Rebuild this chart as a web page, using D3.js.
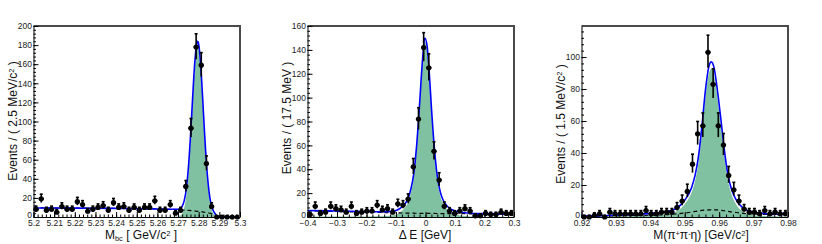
<!DOCTYPE html>
<html>
<head>
<meta charset="utf-8">
<script src="https://cdn.jsdelivr.net/npm/d3@7"></script>
<style>
body{margin:0;background:#fff}
svg{display:block;font-family:"Liberation Sans",Arial,sans-serif}
</style>
</head>
<body>
<svg id="chart" width="822" height="244"></svg>
<script>
/* ---- panel 1 : Mbc, 40 bins of 2.5 MeV ---- */
var mbcCounts = [8,19,7,8,5, 11,8,8,16,13, 6,8,10,12,7, 15,10,11,7,10,
                 7,10,10,17,7, 7,13,4,7,32, 93,178,159,56,11, 0,0,0,0,0];
var mbcCurveX   = [5.2,5.22,5.24,5.26,5.265,5.27,5.271,5.272,5.273,5.274,5.275,5.276,5.277,5.278,5.279,5.2795,
                   5.28,5.281,5.282,5.283,5.284,5.285,5.286,5.287,5.288,5.289,5.29,5.3];
var mbcCurveTot = [9.5,9.3,9.0,8.4,8.1,8.1,8.9,11.2,17.1,29.5,51.4,83.6,122.4,158.8,180.9,183.9,
                   180.7,158.0,121.2,81.8,49.0,26.6,13.4,6.8,3.4,0.4,0,0];
var mbcCurveBkg = [9.5,9.3,9.0,8.4,8.1,7.7,7.56,7.42,7.28,7.14,7.0,6.76,6.52,6.28,6.04,5.9,
                   5.8,5.53,5.27,5.0,4.6,4.2,3.6,3.0,2.1,0,0,0];
var mbcXTicks = [5.2,5.21,5.22,5.23,5.24,5.25,5.26,5.27,5.28,5.29,5.3];
var mbcYTicks = [0,20,40,60,80,100,120,140,160,180,200];

/* ---- panel 2 : Delta E, 40 bins of 17.5 MeV ---- */
var deCounts = [2,9,3,4,9, 7,6,4,9,3, 4,5,5,10,6, 7,4,11,10,15,
                42,82,142,125,55, 31,9,5,3,5, 7,5,1,1,3, 2,2,4,3,3];
var deCurveX   = [-0.4,-0.3,-0.2,-0.15,-0.12,-0.1,-0.085,-0.07,-0.06,-0.05,-0.04,-0.03,-0.02,-0.01,-0.0025,
                  0.005,0.0125,0.02,0.03,0.04,0.05,0.06,0.07,0.085,0.1,0.12,0.15,0.2,0.3];
var deCurveTot = [5.4,5.0,4.5,4.4,4.6,5.5,7.5,11,15,23,36,60,95,132,150,
                  144,122,92,58,34,21,14,10,6.8,5.0,4.0,3.2,2.8,2.5];
var deCurveBkg = [5.2,4.6,4.0,3.8,3.6,3.5,3.4,3.3,3.3,3.2,3.2,3.1,3.1,3.1,3.1,
                  3.0,3.0,3.0,3.0,2.9,2.9,2.9,2.9,2.8,2.8,2.8,2.7,2.6,2.4];
var deXTicks = [-0.4,-0.3,-0.2,-0.1,0,0.1,0.2,0.3];
var deYTicks = [0,20,40,60,80,100,120,140,160];

/* ---- panel 3 : M(pi+ pi- eta), 40 bins of 1.5 MeV ---- */
var etaCounts = [0,0,1,2,0, 3,2,2,2,2, 2,2,4,2,2, 3,3,3,6,10,
                 16,33,52,57,103, 83,57,45,26,17, 10,5,3,3,2, 4,2,3,2,2];
var etaCurveX   = [0.92,0.93,0.937,0.941,0.945,0.948,0.95,0.952,0.953,0.954,0.955,0.956,0.957,0.9577,
                   0.9585,0.9595,0.9605,0.9615,0.9625,0.9635,0.965,0.9665,0.968,0.971,0.976,0.98];
var etaCurveTot = [0.6,1.1,1.7,2.4,3.4,6.0,10.5,18.5,26,38,57,79,94,97,
                   93.5,79,61,42,27,18,10.5,6.5,4.3,2.7,1.9,1.6];
var etaCurveBkg = [0.4,0.7,1.0,1.2,1.5,2.0,2.5,3.1,3.5,3.8,4.1,4.3,4.4,4.5,
                   4.5,4.4,4.2,3.9,3.6,3.2,2.8,2.4,2.1,1.8,1.5,1.4];
var etaXTicks = [0.92,0.93,0.94,0.95,0.96,0.97,0.98];
var etaYTicks = [0,20,40,60,80,100];

var svg = d3.select("#chart");

var panels = [
  {off:0,   counts:mbcCounts, lo:5.2,  hi:5.3,  ymax:200,   cx:mbcCurveX, tot:mbcCurveTot, bkg:mbcCurveBkg,
   xt:mbcXTicks, yt:mbcYTicks, xminor:0.002, yminor:4, fmt:function(d){return String(+d.toFixed(2));},
   xtitle:[["M",""],["bc","sub"],[" [ GeV/c",""],["2","sup"],[" ]",""]], xtitleX:141,
   ytitle:[["Events / ( 2.5 MeV/c",""],["2","sup"],[" )",""]], ytitleY:121},
  {off:274, counts:deCounts,  lo:-0.4, hi:0.3,  ymax:160,   cx:deCurveX,  tot:deCurveTot,  bkg:deCurveBkg,
   xt:deXTicks, yt:deYTicks, xminor:0.02, yminor:4,
   fmt:function(d){return d<0 ? "\u2212"+String(+(-d).toFixed(1)) : String(+d.toFixed(1));},
   xtitle:[["\u0394 E [GeV]",""]], xtitleX:425,
   ytitle:[["Events / ( 17.5 MeV )",""]], ytitleY:118},
  {off:548, counts:etaCounts, lo:0.92, hi:0.98, ymax:119.4, cx:etaCurveX, tot:etaCurveTot, bkg:etaCurveBkg,
   xt:etaXTicks, yt:etaYTicks, xminor:0.002, yminor:4, fmt:function(d){return String(+d.toFixed(2));},
   xtitle:[["M(\u03c0",""],["+","sup"],["\u03c0",""],["-","sup"],["\u03b7) [GeV/c",""],["2","sup"],["]",""]], xtitleX:701,
   ytitle:[["Events / ( 1.5 MeV/c",""],["2","sup"],[" )",""]], ytitleY:124}
];

var frameTop = 26, frameBottom = 217;

function addRich(t, parts){
  parts.forEach(function(p){
    var s = t.append("tspan").text(p[0]);
    if(p[1] == "sup") s.attr("font-size","0.62em").attr("dy","-0.45em");
    if(p[1] == "sub") s.attr("font-size","0.62em").attr("dy","0.3em");
    if(p[1] == "" && s.node().previousSibling){
      var prev = d3.select(s.node().previousSibling).attr("data-k");
      if(prev == "sup") s.attr("dy","0.28em");
      if(prev == "sub") s.attr("dy","-0.19em");
    }
    s.attr("data-k", p[1]);
  });
}

panels.forEach(function(p, k){
  var left = p.off + 33.5, right = p.off + 240;
  var x = d3.scaleLinear().domain([p.lo, p.hi]).range([left, right]);
  var y = d3.scaleLinear().domain([0, p.ymax]).range([frameBottom, frameTop]);
  var g = svg.append("g");

  g.append("clipPath").attr("id","clip"+k).append("rect")
    .attr("x",left).attr("y",frameTop).attr("width",right-left).attr("height",frameBottom-frameTop);
  var plot = g.append("g").attr("clip-path","url(#clip"+k+")");

  var pts = p.cx.map(function(v,i){ return {x:v, tot:p.tot[i], bkg:p.bkg[i]}; });

  /* signal component, filled */
  plot.append("path").datum(pts)
    .attr("d", d3.area().curve(d3.curveMonotoneX)
      .x(function(d){return x(d.x);})
      .y0(y(0))
      .y1(function(d){return y(Math.max(0, d.tot - d.bkg));}))
    .attr("fill","#7fc1a0").attr("stroke","none");

  /* background, dashed */
  plot.append("path").datum(pts)
    .attr("d", d3.line().curve(d3.curveMonotoneX)
      .x(function(d){return x(d.x);}).y(function(d){return y(d.bkg);}))
    .attr("fill","none").attr("stroke","#000").attr("stroke-width",1.2).attr("stroke-dasharray","4,3");

  /* total fit */
  plot.append("path").datum(pts)
    .attr("d", d3.line().curve(d3.curveMonotoneX)
      .x(function(d){return x(d.x);}).y(function(d){return y(d.tot);}))
    .attr("fill","none").attr("stroke","#0000ff").attr("stroke-width",1.6);

  /* data points with errors */
  var w = (p.hi - p.lo) / p.counts.length;
  var data = p.counts.map(function(n,i){
    var e = Math.sqrt(n + 0.25);
    return {x0:p.lo + w*i, x1:p.lo + w*(i+1), xc:p.lo + w*(i+0.5), n:n,
            lo:Math.max(0, n + 0.5 - e), hi:n + 0.5 + e};
  });
  var dp = g.append("g").attr("stroke","#000").attr("stroke-width",1.6);
  dp.selectAll("line.h").data(data).enter().append("line").attr("class","h")
    .attr("x1",function(d){return x(d.x0);}).attr("x2",function(d){return x(d.x1);})
    .attr("y1",function(d){return y(d.n);}).attr("y2",function(d){return y(d.n);});
  dp.selectAll("line.v").data(data).enter().append("line").attr("class","v")
    .attr("x1",function(d){return x(d.xc);}).attr("x2",function(d){return x(d.xc);})
    .attr("y1",function(d){return y(d.lo);}).attr("y2",function(d){return y(d.hi);});
  dp.selectAll("line.c").data(data).enter().append("line").attr("class","c")
    .attr("x1",function(d){return x(d.xc)-1.5;}).attr("x2",function(d){return x(d.xc)+1.5;})
    .attr("y1",function(d){return y(d.hi);}).attr("y2",function(d){return y(d.hi);});
  g.selectAll("circle.m").data(data).enter().append("circle").attr("class","m")
    .attr("cx",function(d){return x(d.xc);}).attr("cy",function(d){return y(d.n);})
    .attr("r",2.6).attr("fill","#000");

  /* frame */
  g.append("path")
    .attr("d","M"+left+","+frameTop+"H"+right+"V"+frameBottom)
    .attr("fill","none").attr("stroke","#4a4a4a").attr("stroke-width",2);

  /* axes: ticks inside */
  var xMinor = d3.range(p.lo, p.hi + 1e-9, p.xminor);
  var yMinor = d3.range(0, p.ymax + 1e-9, p.yminor);
  var xa = g.append("g").attr("transform","translate(0,"+frameBottom+")")
    .call(d3.axisBottom(x).tickValues(p.xt).tickSize(-5).tickSizeOuter(0).tickPadding(3).tickFormat(p.fmt));
  g.append("g").attr("transform","translate(0,"+frameBottom+")")
    .call(d3.axisBottom(x).tickValues(xMinor).tickSize(-2.5).tickSizeOuter(0).tickFormat(""))
    .select(".domain").remove();
  var ya = g.append("g").attr("transform","translate("+left+",0)")
    .call(d3.axisLeft(y).tickValues(p.yt).tickSize(-5).tickSizeOuter(0).tickPadding(1.5));
  g.append("g").attr("transform","translate("+left+",0)")
    .call(d3.axisLeft(y).tickValues(yMinor).tickSize(-2.5).tickSizeOuter(0).tickFormat(""))
    .select(".domain").remove();
  g.selectAll(".tick line").attr("stroke","#000");
  g.selectAll(".domain").attr("stroke","#000");
  [xa, ya].forEach(function(a){
    a.selectAll("text").attr("font-size","8.5px").attr("fill","#222").attr("font-family","Liberation Sans, Arial, sans-serif");
  });
  /* lift the y "0" label a little off the x labels, as in the original */
  ya.selectAll(".tick text").filter(function(d){return d === 0;}).attr("dy","0.1em");

  /* titles */
  var xt = g.append("text").attr("x",p.xtitleX).attr("y",239)
    .attr("text-anchor","middle").attr("font-size","12px").attr("fill","#111");
  addRich(xt, p.xtitle);
  var yt = g.append("text")
    .attr("transform","translate("+(p.off+17)+","+p.ytitleY+") rotate(-90)")
    .attr("text-anchor","middle").attr("font-size","12px").attr("fill","#111");
  addRich(yt, p.ytitle);
});
</script>
</body>
</html>
